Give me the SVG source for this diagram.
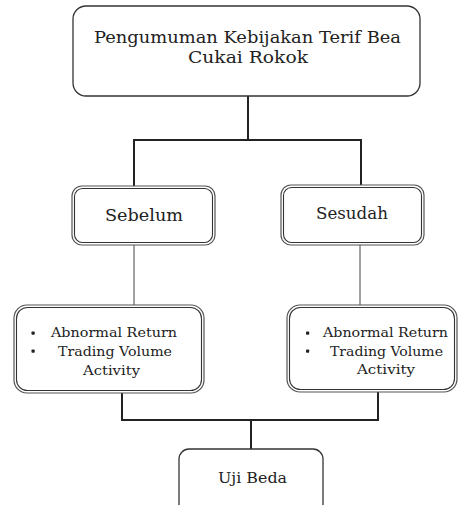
<svg xmlns="http://www.w3.org/2000/svg" width="458" height="505" viewBox="0 0 458 505">
<style>
  text { font-family: 'DejaVu Serif', 'Liberation Serif', serif; fill: #222; }
  .big { font-size: 17px; }
  .mid { font-size: 13.5px; }
  .box { fill: #fff; stroke: #333; stroke-width: 1.3; }
  .outer { fill: #fff; stroke: #555; stroke-width: 1.2; }
  .inner { fill: none; stroke: #333; stroke-width: 1.1; }
  .thick { stroke: #222; stroke-width: 2; fill: none; }
  .thin { stroke: #444; stroke-width: 1; fill: none; }
  .dot { fill: #222; }
</style>
<rect width="458" height="505" fill="#fff"/>
<g id="connectors">
  <line class="thick" x1="248" y1="96" x2="248" y2="140"/>
  <polyline class="thick" points="134,186 134,140 361,140 361,185"/>
  <line class="thin" x1="134" y1="245" x2="134" y2="305"/>
  <line class="thin" x1="360" y1="245" x2="360" y2="305"/>
  <polyline class="thick" points="122,393 122,420 378,420 378,392"/>
  <line class="thick" x1="251" y1="420" x2="251" y2="449"/>
</g>
<g id="pengumuman">
  <rect class="box" x="73" y="6" width="347" height="90" rx="13"/>
  <text class="big" x="94" y="42.5" textLength="307" lengthAdjust="spacingAndGlyphs">Pengumuman Kebijakan Terif Bea</text>
  <text class="big" x="188" y="63" textLength="120" lengthAdjust="spacingAndGlyphs">Cukai Rokok</text>
</g>
<g id="sebelum">
  <rect class="outer" x="72" y="186" width="143" height="59" rx="10"/>
  <rect class="inner" x="74.5" y="188.5" width="138" height="54" rx="8"/>
  <text class="big" x="105" y="221" textLength="78" lengthAdjust="spacingAndGlyphs">Sebelum</text>
</g>
<g id="sesudah">
  <rect class="outer" x="281" y="185" width="143" height="60" rx="10"/>
  <rect class="inner" x="283.5" y="187.5" width="138" height="55" rx="8"/>
  <text class="big" x="316" y="219" textLength="72" lengthAdjust="spacingAndGlyphs">Sesudah</text>
</g>
<g id="variabel-sebelum">
  <rect class="outer" x="14" y="305" width="190" height="88" rx="13"/>
  <rect class="inner" x="16.5" y="307.5" width="185" height="83" rx="11"/>
  <rect class="dot" x="31.5" y="331.5" width="3.2" height="3.2" rx="0.8"/>
  <rect class="dot" x="31.5" y="349.5" width="3.2" height="3.2" rx="0.8"/>
  <text class="mid" x="51" y="337" textLength="126" lengthAdjust="spacingAndGlyphs">Abnormal Return</text>
  <text class="mid" x="58" y="356" textLength="114" lengthAdjust="spacingAndGlyphs">Trading Volume</text>
  <text class="mid" x="83" y="375" textLength="57" lengthAdjust="spacingAndGlyphs">Activity</text>
</g>
<g id="variabel-sesudah">
  <rect class="outer" x="287" y="305" width="170" height="87" rx="13"/>
  <rect class="inner" x="289.5" y="307.5" width="165" height="82" rx="11"/>
  <rect class="dot" x="306" y="331.5" width="3.2" height="3.2" rx="0.8"/>
  <rect class="dot" x="306" y="349.5" width="3.2" height="3.2" rx="0.8"/>
  <text class="mid" x="323" y="337" textLength="125" lengthAdjust="spacingAndGlyphs">Abnormal Return</text>
  <text class="mid" x="330" y="356" textLength="113" lengthAdjust="spacingAndGlyphs">Trading Volume</text>
  <text class="mid" x="357" y="374" textLength="58" lengthAdjust="spacingAndGlyphs">Activity</text>
</g>
<g id="uji-beda">
  <rect class="box" x="179" y="449" width="144" height="70" rx="10"/>
  <text font-size="15" x="218" y="483" textLength="69" lengthAdjust="spacingAndGlyphs">Uji Beda</text>
</g>
</svg>
